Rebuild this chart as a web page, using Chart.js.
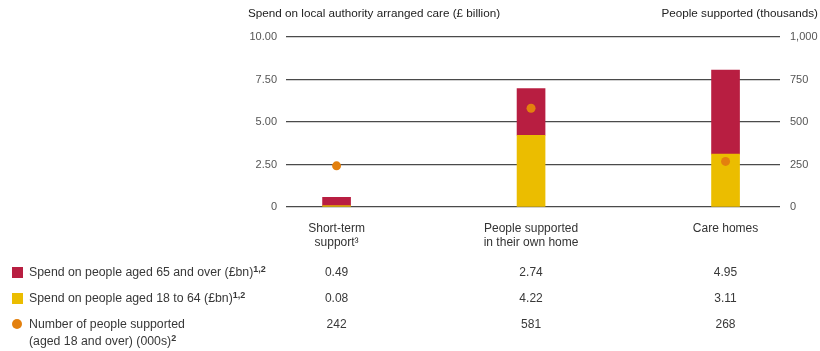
<!DOCTYPE html>
<html>
<head>
<meta charset="utf-8">
<script src="https://cdn.jsdelivr.net/npm/chart.js@4"></script>
<style>
  body { margin: 0; background: #fff; font-family: "Liberation Sans", Arial, sans-serif; color: #383838; }
  #wrap { position: relative; width: 820px; height: 351px; }
  canvas { position: absolute; left: 0; top: 0; }
  .title { position: absolute; top: 6px; font-size: 11.7px; color: #222; white-space: nowrap; }
  .row { position: absolute; left: 29px; font-size: 12.3px; line-height: 17px; white-space: nowrap; }
  .key { position: absolute; left: 12px; width: 11px; height: 11px; }
  .val { position: absolute; font-size: 12px; line-height: 17px; transform: translateX(-50%); }
  sup { font-size: 9px; vertical-align: 4px; line-height: 0; font-weight: bold; }
</style>
</head>
<body>
<div id="wrap">
  <canvas id="chart" width="820" height="351"></canvas>
  <div class="title" style="left:248px">Spend on local authority arranged care (£ billion)</div>
  <div class="title" style="right:2px">People supported (thousands)</div>
  <div id="table"></div>
</div>
<script>
const categories = [["Short-term", "support³"], ["People supported", "in their own home"], ["Care homes"]];
const spend65 = [0.49, 2.74, 4.95];
const spend1864 = [0.08, 4.22, 3.11];
const peopleSupported = [242, 581, 268];
const spendTicks = [0, 2.5, 5, 7.5, 10];
const peopleTicks = [0, 250, 500, 750, 1000];

const RED = "#B81E41";
const YELLOW = "#EBBD00";
const ORANGE = "#E3800E";

const tableRows = [
  { label: "Spend on people aged 65 and over (£bn)<sup>1,2</sup>", values: spend65.map(v => v.toFixed(2)), key: RED, round: false, top: 264 },
  { label: "Spend on people aged 18 to 64 (£bn)<sup>1,2</sup>", values: spend1864.map(v => v.toFixed(2)), key: YELLOW, round: false, top: 290 },
  { label: "Number of people supported<br>(aged 18 and over) (000s)<sup>2</sup>", values: peopleSupported.map(String), key: ORANGE, round: true, top: 316 }
];

function points(arr){
    return arr.map((v, i) => ({ x: i, y: v }));
}

const ctx = document.getElementById("chart").getContext("2d");
const chart = new Chart(ctx, {
    type: "bar",
    data: {
        datasets: [
            {
                type: "line",
                label: "Number of people supported",
                data: points(peopleSupported),
                yAxisID: "y1",
                showLine: false,
                pointRadius: 4.5,
                pointHoverRadius: 4.5,
                pointBackgroundColor: ORANGE,
                pointBorderWidth: 0,
                order: 0
            },
            {
                label: "Spend on people aged 18 to 64",
                data: points(spend1864),
                backgroundColor: YELLOW,
                yAxisID: "y",
                stack: "spend",
                barThickness: 28,
                order: 1
            },
            {
                label: "Spend on people aged 65 and over",
                data: points(spend65),
                backgroundColor: RED,
                yAxisID: "y",
                stack: "spend",
                barThickness: 28,
                order: 1
            }
        ]
    },
    options: {
        responsive: false,
        animation: false,
        layout: { padding: { top: 37, left: 0, right: 0, bottom: 0 } },
        plugins: { legend: { display: false }, tooltip: { enabled: false } },
        scales: {
            x: {
                type: "linear",
                stacked: true,
                offset: false,
                min: -0.26,
                max: 2.28,
                afterBuildTicks: s => { s.ticks = categories.map((c, i) => ({ value: i })); },
                afterFit: s => { s.height = 144; },
                ticks: {
                    callback: v => categories[v],
                    color: "#333",
                    font: { family: "Liberation Sans", size: 12 },
                    padding: 6,
                    maxRotation: 0,
                    autoSkip: false
                },
                grid: { display: false },
                border: { display: false }
            },
            y: {
                position: "left",
                stacked: true,
                min: 0,
                max: 10,
                afterBuildTicks: s => { s.ticks = spendTicks.map(v => ({ value: v })); },
                afterFit: s => { s.width = 286; },
                ticks: {
                    callback: v => v === 0 ? "0" : v.toFixed(2),
                    color: "#555",
                    font: { family: "Liberation Sans", size: 11 },
                    padding: 9
                },
                grid: { color: "#4a4a4a", lineWidth: 1.2, drawTicks: false },
                border: { display: false }
            },
            y1: {
                position: "right",
                min: 0,
                max: 1000,
                afterBuildTicks: s => { s.ticks = peopleTicks.map(v => ({ value: v })); },
                afterFit: s => { s.width = 40; },
                ticks: {
                    callback: v => v.toLocaleString("en-GB"),
                    color: "#555",
                    font: { family: "Liberation Sans", size: 11 },
                    padding: 10
                },
                grid: { display: false, drawTicks: false },
                border: { display: false }
            }
        }
    }
});

// table under the chart, columns lined up with the x scale
const table = document.getElementById("table");
const xScale = chart.scales.x;
tableRows.forEach(row => {
    const key = document.createElement("div");
    key.className = "key";
    key.style.top = (row.top + 3) + "px";
    key.style.background = row.key;
    if(row.round){ key.style.borderRadius = "50%"; key.style.width = "10px"; key.style.height = "10px"; }
    table.appendChild(key);

    const label = document.createElement("div");
    label.className = "row";
    label.style.top = row.top + "px";
    label.innerHTML = row.label;
    table.appendChild(label);

    row.values.forEach((v, i) => {
        const cell = document.createElement("div");
        cell.className = "val";
        cell.style.top = row.top + "px";
        cell.style.left = xScale.getPixelForValue(i) + "px";
        cell.textContent = v;
        table.appendChild(cell);
    });
});
</script>
</body>
</html>
